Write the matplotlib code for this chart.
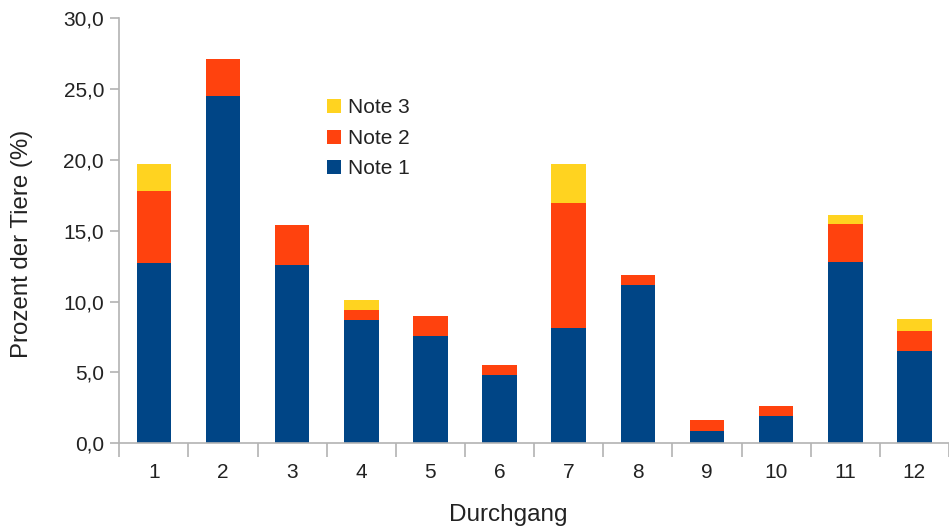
import matplotlib.pyplot as plt
import numpy as np
from matplotlib.ticker import FuncFormatter

plt.rcParams['font.family'] = ['Liberation Sans', 'DejaVu Sans']

durchgang = ['1', '2', '3', '4', '5', '6', '7', '8', '9', '10', '11', '12']
note1 = [12.75, 24.5, 12.6, 8.7, 7.6, 4.8, 8.15, 11.2, 0.85, 1.95, 12.8, 6.5]
note2 = [5.05, 2.6, 2.8, 0.7, 1.4, 0.7, 8.8, 0.7, 0.8, 0.7, 2.65, 1.45]
note3 = [1.95, 0, 0, 0.7, 0, 0, 2.8, 0, 0, 0, 0.7, 0.8]

c1 = '#004586'
c2 = '#ff420e'
c3 = '#ffd320'
grey = '#b3b3b3'
txt = '#222222'

fig = plt.figure(figsize=(9.49, 5.27), dpi=100)
ax = fig.add_axes([119.3 / 949, 1 - 443.3 / 527, 1 - 119.3 / 949, (443.3 - 18.3) / 527])

x = np.arange(len(durchgang))
n1 = np.array(note1)
n2 = np.array(note2)
n3 = np.array(note3)
b1 = ax.bar(x, n1, 0.5, color=c1, label='Note 1')
b2 = ax.bar(x, n2, 0.5, bottom=n1, color=c2, label='Note 2')
b3 = ax.bar(x, n3, 0.5, bottom=n1 + n2, color=c3, label='Note 3')

ax.set_ylim(0, 30)
ax.set_xlim(-0.5, 11.426)
ax.set_yticks(np.arange(0, 31, 5))
ax.yaxis.set_major_formatter(FuncFormatter(lambda v, p: ('%.1f' % v).replace('.', ',')))

# tick marks between categories, labels at centres
ax.set_xticks(np.arange(-0.5, 12, 1))
ax.set_xticklabels([])
ax.set_xticks(x, minor=True)
ax.set_xticklabels(durchgang, minor=True)
ax.tick_params(axis='x', which='major', length=10, width=1.2, color=grey)
ax.tick_params(axis='x', which='minor', length=0, pad=14, labelsize=15, labelcolor=txt)
ax.tick_params(axis='y', length=6.5, width=1.2, color=grey, pad=4.5, labelsize=15, labelcolor=txt)

for s in ['top', 'right']:
    ax.spines[s].set_visible(False)
for s in ['left', 'bottom']:
    ax.spines[s].set_color(grey)
    ax.spines[s].set_linewidth(1.2)

fig.text(22 / 949, 1 - 244 / 527, 'Prozent der Tiere (%)', fontsize=17.3, color=txt,
         rotation=90, ha='center', va='center')
fig.text(508 / 949, 1 - 515 / 527, 'Durchgang', fontsize=17.5, color=txt,
         ha='center', va='center')

ax.legend([b3, b2, b1], ['Note 3', 'Note 2', 'Note 1'], loc='upper left',
          bbox_to_anchor=(317 / 949, 1 - 88 / 527), bbox_transform=fig.transFigure,
          frameon=False, fontsize=15, handlelength=0.65, handleheight=0.65,
          handletextpad=0.35, labelspacing=0.55, borderpad=0, labelcolor=txt)

fig.savefig('out.png', dpi=100)
